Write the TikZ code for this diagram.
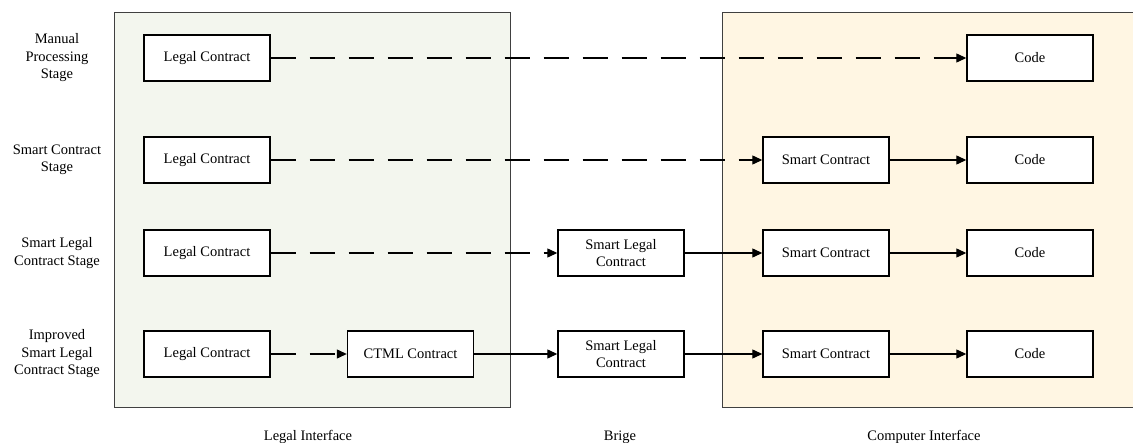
\documentclass[tikz,border=0pt]{standalone}
\usepackage{fontspec}
\setmainfont{Liberation Serif}
\usetikzlibrary{arrows.meta}
\begin{document}
\begin{tikzpicture}[x=1pt,y=-1pt,
  every node/.style={font=\fontsize{14.5}{17.5}\selectfont},
  box/.style={draw=black, line width=1.4pt, fill=white, minimum width=126pt, minimum height=46pt, inner sep=0pt, align=center},
  lbl/.style={align=center, inner sep=0pt},
  panel/.style={draw=black!75, line width=0.8pt},
  conn/.style={line width=1.2pt, -{Triangle[length=10pt,width=9pt]}},
  dconn/.style={conn, dash pattern=on 25pt off 14pt}
]
\useasboundingbox (0,0) rectangle (1133,443);
% panels
\fill[fill={rgb,255:red,243;green,246;blue,238}] (114,12) rectangle (510,407);
\draw[panel] (114,12) rectangle (510,407);
\fill[fill={rgb,255:red,255;green,246;blue,227}] (722,12) rectangle (1140,407);
\draw[panel] (1140,12) -- (722,12) -- (722,407) -- (1140,407);
% row labels
\node[lbl] (r1) at (57,58) {Manual\\Processing\\Stage};
\node[lbl] (r2) at (57,160) {Smart Contract\\Stage};
\node[lbl] (r3) at (57,253) {Smart Legal\\Contract Stage};
\node[lbl] (r4) at (57,354) {Improved\\Smart Legal\\Contract Stage};
% bottom labels
\node[lbl] (li) at (308,437) {Legal Interface};
\node[lbl] (br) at (620,437) {Brige};
\node[lbl] (ci) at (924,437) {Computer Interface};
% row 1
\node[box] (lc1) at (207,58) {Legal Contract};
\node[box] (cd1) at (1030,58) {Code};
% row 2
\node[box] (lc2) at (207,160) {Legal Contract};
\node[box] (sc2) at (826,160) {Smart Contract};
\node[box] (cd2) at (1030,160) {Code};
% row 3
\node[box] (lc3) at (207,253) {Legal Contract};
\node[box] (sl3) at (621,253) {Smart Legal\\Contract};
\node[box] (sc3) at (826,253) {Smart Contract};
\node[box] (cd3) at (1030,253) {Code};
% row 4
\node[box] (lc4) at (207,354) {Legal Contract};
\node[box] (ct4) at (410.5,354) {CTML Contract};
\node[box] (sl4) at (621,354) {Smart Legal\\Contract};
\node[box] (sc4) at (826,354) {Smart Contract};
\node[box] (cd4) at (1030,354) {Code};
% connectors
\draw[dconn] (lc1) -- (cd1);
\draw[dconn] (lc2) -- (sc2);
\draw[conn] (sc2) -- (cd2);
\draw[dconn] (lc3) -- (sl3);
\draw[conn] (sl3) -- (sc3);
\draw[conn] (sc3) -- (cd3);
\draw[dconn] (lc4) -- (ct4);
\draw[conn] (ct4) -- (sl4);
\draw[conn] (sl4) -- (sc4);
\draw[conn] (sc4) -- (cd4);
\end{tikzpicture}
\end{document}
